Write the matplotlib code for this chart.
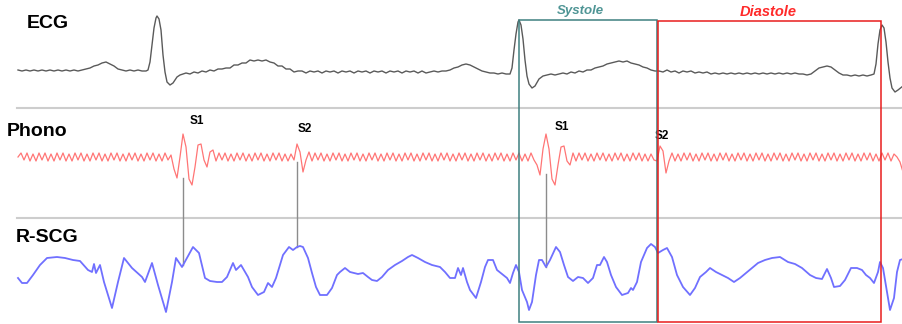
import numpy as np
import matplotlib.pyplot as plt
from matplotlib.patches import Rectangle

plt.rcParams['font.family'] = ['Liberation Sans', 'DejaVu Sans']

# ECG: (time, amplitude) samples, baseline = 0
ecg_pts = [
    (18, 2), (22, 1), (26, 2), (30, 1), (34, 2), (38, 1), (42, 2), (46, 1), (50, 2), (54, 1),
    (58, 2), (62, 1), (66, 2), (70, 1), (74, 2), (78, 1), (82, 2), (86, 3), (90, 4), (94, 6),
    (98, 7), (102, 9), (106, 10), (110, 8), (114, 6), (118, 3), (122, 2), (126, 1), (130, 2),
    (134, 1), (138, 2), (142, 1), (146, 1), (148, 2), (150, 10), (152, 27), (154, 44), (156, 54),
    (157, 56), (159, 53), (161, 42), (163, 17), (165, 0), (167, -10), (170, -13), (173, -11),
    (177, -5), (180, -3), (183, -2), (186, -1), (190, -2), (194, 0), (198, -1), (202, 1), (206, 0),
    (210, 2), (214, 1), (218, 3), (222, 3), (226, 4), (230, 4), (234, 7), (238, 7), (242, 9),
    (246, 9), (250, 12), (254, 11), (258, 12), (262, 11), (266, 12), (270, 10), (274, 9), (278, 6),
    (282, 6), (286, 3), (290, 3), (294, 0), (298, 1),
    (302, 1), (306, -1), (310, 1), (314, 0), (318, 1), (322, -1), (326, 1), (330, 0), (334, 1),
    (338, -1), (342, 1), (346, 0), (350, 1), (354, -1), (358, 1), (362, 0), (366, 1), (370, -1),
    (374, 1), (378, 0), (382, 1), (386, -1), (390, 1), (394, 0), (398, 1), (402, -1), (406, 1),
    (410, 0), (414, 1), (418, -1), (422, 1), (426, -1), (430, 0), (434, 1), (438, 0), (442, 1),
    (446, 1), (450, 2), (454, 4), (458, 5), (462, 7), (466, 8), (470, 7), (474, 5), (478, 3),
    (482, 1), (486, 0), (490, -1), (494, -1), (498, -2), (502, -1), (506, -2), (510, -2),
    (512, 4), (514, 22), (516, 38), (518, 50), (519, 52), (521, 47), (523, 33), (525, 12),
    (527, -4), (529, -12), (532, -16), (535, -14), (539, -7), (543, -4), (547, -3), (551, -2),
    (555, -3), (559, -2), (563, -1), (567, -2),
    (571, 0), (575, -1), (579, 1), (583, 0), (587, 2), (591, 2), (595, 4), (599, 5), (603, 6),
    (607, 8), (611, 9), (615, 10), (619, 11), (623, 10), (627, 11), (631, 9), (635, 8), (639, 7),
    (643, 5), (647, 4), (651, 2), (655, 1), (659, 1), (663, 0), (667, 2), (671, 0), (675, 1),
    (679, -1), (683, 1), (687, 0), (691, 1), (695, -1), (699, 0), (703, -1), (707, 0), (711, -2),
    (715, -1), (719, -2), (723, -1), (727, -2), (731, -1), (735, -2), (739, -1), (743, -2),
    (747, -1), (751, -2), (755, -1), (759, -2), (763, -1), (767, -2), (771, -1), (775, -2),
    (779, -1), (783, -2), (787, -1), (791, -2), (795, -1), (799, -2), (803, -2), (807, -3),
    (811, -2), (815, 1), (819, 4), (823, 5), (827, 6), (831, 5), (835, 2), (839, -1), (843, -3),
    (847, -3), (851, -4), (855, -3), (859, -4), (863, -3), (867, -4), (871, -3), (874, -2),
    (876, 8), (878, 28), (880, 42), (882, 47), (884, 44), (886, 30), (888, 10), (890, -6),
    (892, -16), (895, -20), (898, -18), (903, -14),
]

# Phonocardiogram, uniform sampling (step 3) starting at t = 18
phono_t0, phono_dt = 18, 3
phono = [
    0, 4, -3, 4, -4, 3, -4, 4, -3, 4,
    -4, 3, -4, 4, -3, 4, -4, 3, -4, 4,
    -3, 4, -4, 3, -4, 4, -3, 4, -4, 3,
    -4, 4, -3, 4, -4, 3, -4, 4, -3, 4,
    -4, 3, -4, 4, -3, 4, -4, 3, -4, 4,
    -3, 2,
    -12, -21, 0, 23, 10, -22, -28, -10, 12, 13, -3, -10, 5, 7,   # S1
    -4, 4, -3, 4,
    -4, 3, -4, 4, -3, 4, -4, 3, -4, 4,
    -3, 4, -4, 3, -4, 4, -3, 4, -4, 3,
    -4, 3,
    -3, 13, 5, -15, -3, 5,                                       # S2
    -4, 4,
    -3, 4, -4, 3, -4, 4, -3, 4, -4, 3,
    -4, 4, -3, 4, -4, 3, -4, 4, -3, 4,
    -4, 3, -4, 4, -3, 4, -4, 3, -4, 4,
    -3, 4, -4, 3, -4, 4, -3, 4, -4, 3,
    -4, 4, -3, 4, -4, 3, -4, 4, -3, 4,
    -4, 3, -4, 4, -3, 4, -4, 3, -4, 4,
    -3, 4, -4, 3, -4, 4, -3, 4, -4, 3,
    -4, 4, -3,
    -8, -18, 8, 23, 8, -22, -28, -8, 10, 11, -4, -8, 4,         # S1
    -4, 4, -3, 4,
    -4, 3, -4, 4, -3, 4, -4, 3, -4, 4,
    -3, 4, -4, 3, -4, 4, -3, 4, -4, 3,
    -4, 3, -3,
    -4, 11, 6, -16, -4,                                          # S2
    4, -4,
    3, -4, 4, -3, 4, -4, 3, -4, 4, -3,
    4, -4, 3, -4, 4, -3, 4, -4, 3, -4,
    4, -3, 4, -4, 3, -4, 4, -3, 4, -4,
    3, -4, 4, -3, 4, -4, 3, -4, 4, -3,
    4, -4, 3, -4, 4, -3, 4, -4, 3, -4,
    4, -3, 4, -4, 3, -4, 4, -3, 4, -4,
    3, -4, 4, -3, 4, -4, 3, -4, 4, -3,
    4, -4, 3,
    0, -5, -15,
]

# R-SCG: (time, amplitude)
scg_pts = [
    (18, -8), (22, -13), (27, -13), (33, -5), (40, 5), (47, 12), (57, 13), (65, 12), (73, 10),
    (80, 9), (88, 0), (92, -2), (94, 6), (96, -3), (100, 5), (104, -12), (112, -38), (118, -12),
    (124, 12), (132, 2), (142, -7), (145, -12), (152, 7), (158, -15), (166, -42), (172, -12),
    (176, 12), (182, 3), (187, 12), (193, 23), (199, 17), (205, -8), (210, -11), (217, -12),
    (222, -12), (227, -7), (233, 7), (236, 0), (241, 5), (248, -7), (252, -17), (258, -25),
    (264, -22), (268, -13), (272, -17), (276, -8), (283, 15), (289, 23), (293, 20), (297, 23),
    (300, 24), (303, 23), (308, 12), (312, -3), (316, -17), (320, -25), (327, -25), (332, -18),
    (337, -5), (340, -2), (345, 2), (350, -2), (358, -4), (363, -3), (368, -7), (372, -10),
    (377, -11), (382, -7), (388, 0), (395, 5), (402, 9), (408, 13), (412, 15), (418, 12),
    (425, 8), (432, 5), (440, 3), (445, -2), (450, -8), (455, -8), (458, 2), (461, -5), (463, 2),
    (467, -12), (470, -20), (476, -28), (481, -12), (485, 3), (488, 10), (493, 10), (497, 0),
    (502, -4), (507, -8), (510, -13), (513, -3), (516, 5), (519, -2), (522, -20), (527, -32),
    (529, -40), (532, -32), (536, -5), (539, 10), (542, 10), (546, 3), (550, 10), (556, 23),
    (560, 18), (564, 5), (568, -7), (573, -11), (578, -7), (583, -8), (588, -13), (593, -8),
    (597, 5), (600, 5), (604, 13), (607, 8), (611, -5), (616, -17), (622, -25), (628, -23),
    (631, -18), (633, -20), (637, -12), (641, 8), (647, 22), (651, 26), (655, 23), (658, 17),
    (663, 20), (667, 22), (672, 13), (677, -5), (683, -17), (690, -25), (695, -18), (700, -7),
    (706, -2), (710, 2), (716, -2), (722, -5), (728, -8), (734, -12), (740, -8), (746, -3),
    (752, 2), (758, 7), (765, 10), (772, 12), (780, 13), (788, 8), (795, 6), (802, 2), (810, -5),
    (816, -8), (822, -9), (827, 1), (831, -8), (834, -17), (840, -16), (845, -10), (851, 2),
    (857, 2), (862, 0), (866, -5), (870, -8), (874, -13), (878, -2), (880, 8), (883, 2),
    (887, -22), (890, -40), (894, -28), (897, -2), (900, 10), (903, 11),
]

# heart sound markers: time, label, top of guide line (phono amplitude)
sounds_t = [183, 297, 546, 657]
sounds_lbl = ['S1', 'S2', 'S1', 'S2']
guide_t = [183, 297, 546]
guide_top = [-21, -5, -17]

# cardiac phases (time)
systole = (519, 657)
diastole = (657, 881)

# lane baselines (vertical layout)
ECG_BASE, PHONO_BASE, SCG_BASE = 72, 157, 270

fig = plt.figure(figsize=(9.03, 3.24), dpi=100)
ax = fig.add_axes([0, 0, 1, 1])
ax.set_xlim(0, 903)
ax.set_ylim(324, 0)
ax.axis('off')

ecg = np.array(ecg_pts)
scg = np.array(scg_pts)
ph_t = phono_t0 + phono_dt * np.arange(len(phono))
ph = np.array(phono)

# lane separators
for y in (108, 218):
    ax.plot([17, 903], [y, y], color='#cdcdcd', lw=1.5, zorder=1)

# guide lines from phono to SCG
scg_at = np.interp(guide_t, scg[:, 0], scg[:, 1])
for t, top, bot in zip(guide_t, guide_top, scg_at):
    ax.plot([t, t], [PHONO_BASE - top, SCG_BASE - bot], color='#8c8c8c', lw=1.0, zorder=2)

ax.plot(ecg[:, 0], ECG_BASE - ecg[:, 1], color='#5a5a5a', lw=1.0, zorder=3,
        solid_joinstyle='round')
ax.plot(ph_t, PHONO_BASE - ph, color='#ff7575', lw=0.9, zorder=3, solid_joinstyle='round')
ax.plot(scg[:, 0], SCG_BASE - scg[:, 1], color='#7070ff', lw=1.3, zorder=3,
        solid_joinstyle='round')

# phase boxes
ax.add_patch(Rectangle((systole[0], 20), systole[1] - systole[0], 302,
                       fill=False, ec='#3f8080', lw=1.1, zorder=4))
ax.add_patch(Rectangle((diastole[0] + 1, 21), diastole[1] - diastole[0] - 1, 301,
                       fill=False, ec='#e81c1c', lw=1.1, zorder=4))
ax.text(sum(systole) / 2 - 8, 11, 'Systole', color='#4f9595', fontsize=9.5,
        fontweight='bold', style='italic', ha='center', va='center')
ax.text(sum(diastole) / 2 - 1, 12, 'Diastole', color='#ff2a2a', fontsize=10.5,
        fontweight='bold', style='italic', ha='center', va='center')

# lane titles
ax.text(27, 23, 'ECG', fontsize=14, fontweight='bold', va='center', ha='left')
ax.text(7, 131, 'Phono', fontsize=14, fontweight='bold', va='center', ha='left')
ax.text(16, 238, 'R-SCG', fontsize=14, fontweight='bold', va='center', ha='left')

# heart sound labels
lbl_y = [121, 129, 127, 136]
lbl_dx = [14, 8, 16, 5]
for t, s, y, dx in zip(sounds_t, sounds_lbl, lbl_y, lbl_dx):
    ax.text(t + dx, y, s, fontsize=8.5, fontweight='bold', ha='center', va='center')

fig.savefig('out.png', dpi=100)
